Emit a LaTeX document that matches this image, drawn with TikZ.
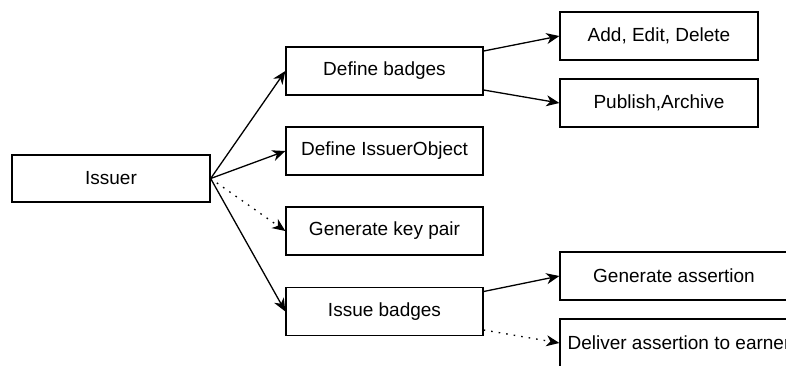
\documentclass[tikz,border=0pt]{standalone}
\usepackage{fontspec}
\setmainfont{Liberation Sans}
\usetikzlibrary{arrows.meta}
\begin{document}
\begin{tikzpicture}[x=1pt,y=-1pt,
  box/.style={draw, line width=1.3pt, minimum height=48pt, inner sep=0pt,
    font=\fontsize{19}{22}\selectfont},
  link/.style={line width=1.3pt, -{Stealth[length=13pt,width=11pt,inset=4pt]}},
  dotlink/.style={link, dash pattern=on 1.6pt off 6pt}]
  \useasboundingbox (0,0) rectangle (786,365);
  \clip (0,0) rectangle (786,365);
  % root
  \node[box, minimum width=198pt, minimum height=47pt] (issuer) at (111,178.5) {Issuer};
  % second level
  \node[box, minimum width=197pt] (defb) at (384.5,71) {Define badges};
  \node[box, minimum width=197pt] (defo) at (384.5,151) {Define IssuerObject};
  \node[box, minimum width=197pt] (keys) at (384.5,231) {Generate key pair};
  \node[box, minimum width=197pt] (issb) at (384.5,311.5) {Issue badges};
  % third level
  \node[box, minimum width=198pt] (aed) at (659,36) {Add, Edit, Delete};
  \node[box, minimum width=198pt] (pub) at (659,103) {Publish,Archive};
  \node[box, minimum width=228pt] (gen) at (674,276) {Generate assertion};
  \node[box, minimum width=238pt] (dlv) at (679,343) {Deliver assertion to earner};
  % connectors
  \draw[link] (issuer.east) -- (defb.west);
  \draw[link] (issuer.east) -- (defo.west);
  \draw[dotlink] (issuer.east) -- (keys.west);
  \draw[link] (issuer.east) -- (issb.west);
  \draw[link] ([yshift=20pt]defb.east) -- (aed.west);
  \draw[link] ([yshift=-19pt]defb.east) -- (pub.west);
  \draw[link] ([yshift=20pt]issb.east) -- (gen.west);
  \draw[dotlink] ([yshift=-18.5pt]issb.east) -- (dlv.west);
\end{tikzpicture}
\end{document}
